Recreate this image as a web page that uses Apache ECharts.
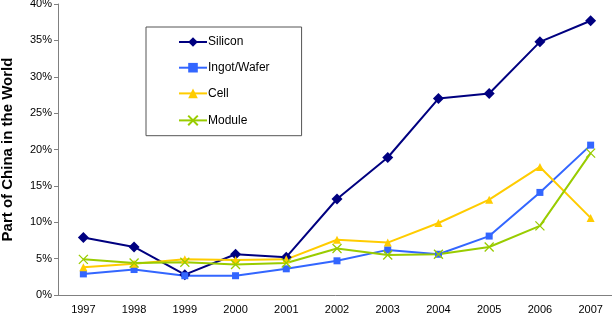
<!DOCTYPE html>
<html lang="en">
<head>
  <meta charset="UTF-8">
  <title>Part of China in the World</title>
  <style>
    html, body { margin: 0; padding: 0; background: #fff; }
    #chart { width: 612px; height: 327px; }
  </style>
</head>
<body>
  <div id="chart"></div>
  <script src="https://cdn.jsdelivr.net/npm/echarts@6/dist/echarts.min.js"></script>
  <script>
    const years = ['1997', '1998', '1999', '2000', '2001', '2002', '2003', '2004', '2005', '2006', '2007']
    // shares in percent
    const silicon = [7.9, 6.6, 2.8, 5.6, 5.2, 13.2, 18.9, 27.0, 27.7, 34.8, 37.7]
    const ingotWafer = [2.9, 3.5, 2.65, 2.65, 3.6, 4.7, 6.2, 5.6, 8.1, 14.1, 20.6]
    const cell = [3.8, 4.3, 4.9, 4.8, 4.9, 7.6, 7.2, 9.9, 13.1, 17.6, 10.6]
    const module_ = [4.9, 4.4, 4.5, 4.2, 4.4, 6.4, 5.5, 5.6, 6.6, 9.5, 19.5]

    const font = 'Liberation Sans, Arial, sans-serif'

    function line(name, data, color, symbol, size, extra) {
      return Object.assign({
        name: name,
        type: 'line',
        data: data,
        symbol: symbol,
        symbolSize: size,
        showAllSymbol: true,
        lineStyle: { color: color, width: 2 },
        itemStyle: { color: color },
        emphasis: { disabled: true }
      }, extra || {})
    }

    const chart = echarts.init(document.getElementById('chart'))
    chart.setOption({
      animation: false,
      textStyle: { fontFamily: font },
      grid: { left: 58, top: 4, right: -4, bottom: 32, outerBoundsMode: 'none' },
      legend: {
        orient: 'vertical',
        left: 146,
        top: 27,
        itemWidth: 28,
        itemHeight: 12,
        itemGap: 13.7,
        padding: [9, 32, 8, 32],
        borderColor: '#555',
        borderWidth: 1,
        textStyle: { fontSize: 12, color: '#000', fontFamily: font, padding: [0, 0, 0, -4] },
        data: ['Silicon', 'Ingot/Wafer', 'Cell', 'Module']
      },
      xAxis: {
        type: 'category',
        data: years,
        boundaryGap: true,
        axisLine: { lineStyle: { color: '#808080' } },
        axisTick: { length: 5, lineStyle: { color: '#808080' } },
        axisLabel: { fontSize: 11, color: '#000', margin: 9 }
      },
      yAxis: {
        type: 'value',
        min: 0,
        max: 40,
        interval: 5,
        name: 'Part of China in the World',
        nameLocation: 'middle',
        nameGap: 43,
        nameTextStyle: { fontSize: 15, fontWeight: 'bold', color: '#000', fontFamily: font },
        axisLine: { show: true, lineStyle: { color: '#808080' } },
        axisTick: { show: true, length: 4, lineStyle: { color: '#808080' } },
        splitLine: { show: false },
        axisLabel: { fontSize: 11, color: '#000', margin: 6, formatter: '{value}%' }
      },
      series: [
        line('Silicon', silicon, '#000080', 'diamond', 11),
        line('Ingot/Wafer', ingotWafer, '#3366FF', 'rect', 7),
        line('Cell', cell, '#FFCC00', 'triangle', 8),
        line('Module', module_, '#99CC00', 'path://M0,0L10,10M10,0L0,10', 9, {
          itemStyle: { color: 'none', borderColor: '#99CC00', borderWidth: 1.3 }
        })
      ]
    })
  </script>
</body>
</html>
